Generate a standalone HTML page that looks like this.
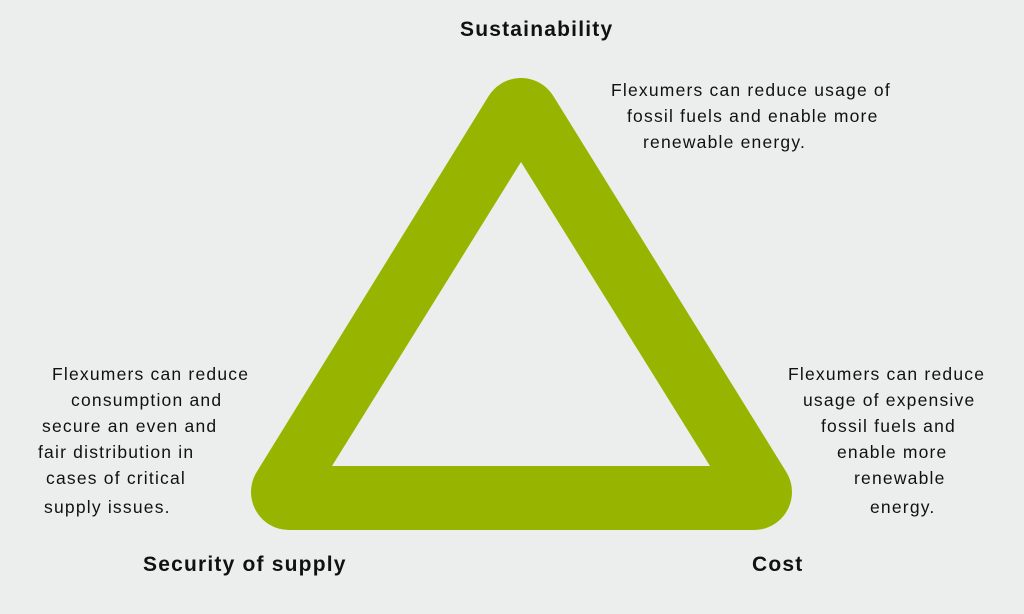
<!DOCTYPE html>
<html><head><meta charset="utf-8"><style>
html,body{margin:0;padding:0}
body{width:1024px;height:614px;background:#eceeed;position:relative;overflow:hidden;font-family:"Liberation Sans",sans-serif;color:#111}
.t{position:absolute;font-size:17.5px;letter-spacing:1.2px;line-height:26px;white-space:nowrap}
.h{position:absolute;font-size:21px;letter-spacing:1.2px;font-weight:bold;white-space:nowrap}
</style></head><body>
<svg width="1024" height="614" style="position:absolute;left:0;top:0">
<polygon points="521,116 289,492 754,492" fill="#97b500" stroke="#97b500" stroke-width="76" stroke-linejoin="round"/>
<polygon points="521,162 332,466 710,466" fill="#eceeed"/>
</svg>
<div class="h" style="left:460px;top:18px">Sustainability</div>
<div class="h" style="left:143px;top:553px">Security of supply</div>
<div class="h" style="left:752px;top:553px">Cost</div>
<div class="t" style="left:611px;top:77px">Flexumers can reduce usage of</div>
<div class="t" style="left:627px;top:103px">fossil fuels and enable more</div>
<div class="t" style="left:643px;top:129px">renewable energy.</div>
<div class="t" style="left:52px;top:361px">Flexumers can reduce</div>
<div class="t" style="left:71px;top:387px">consumption and</div>
<div class="t" style="left:42px;top:413px">secure an even and</div>
<div class="t" style="left:38px;top:439px">fair distribution in</div>
<div class="t" style="left:46px;top:465px">cases of critical</div>
<div class="t" style="left:44px;top:494px">supply issues.</div>
<div class="t" style="left:788px;top:361px">Flexumers can reduce</div>
<div class="t" style="left:803px;top:387px">usage of expensive</div>
<div class="t" style="left:821px;top:413px">fossil fuels and</div>
<div class="t" style="left:837px;top:439px">enable more</div>
<div class="t" style="left:854px;top:465px">renewable</div>
<div class="t" style="left:870px;top:494px">energy.</div>
</body></html>
